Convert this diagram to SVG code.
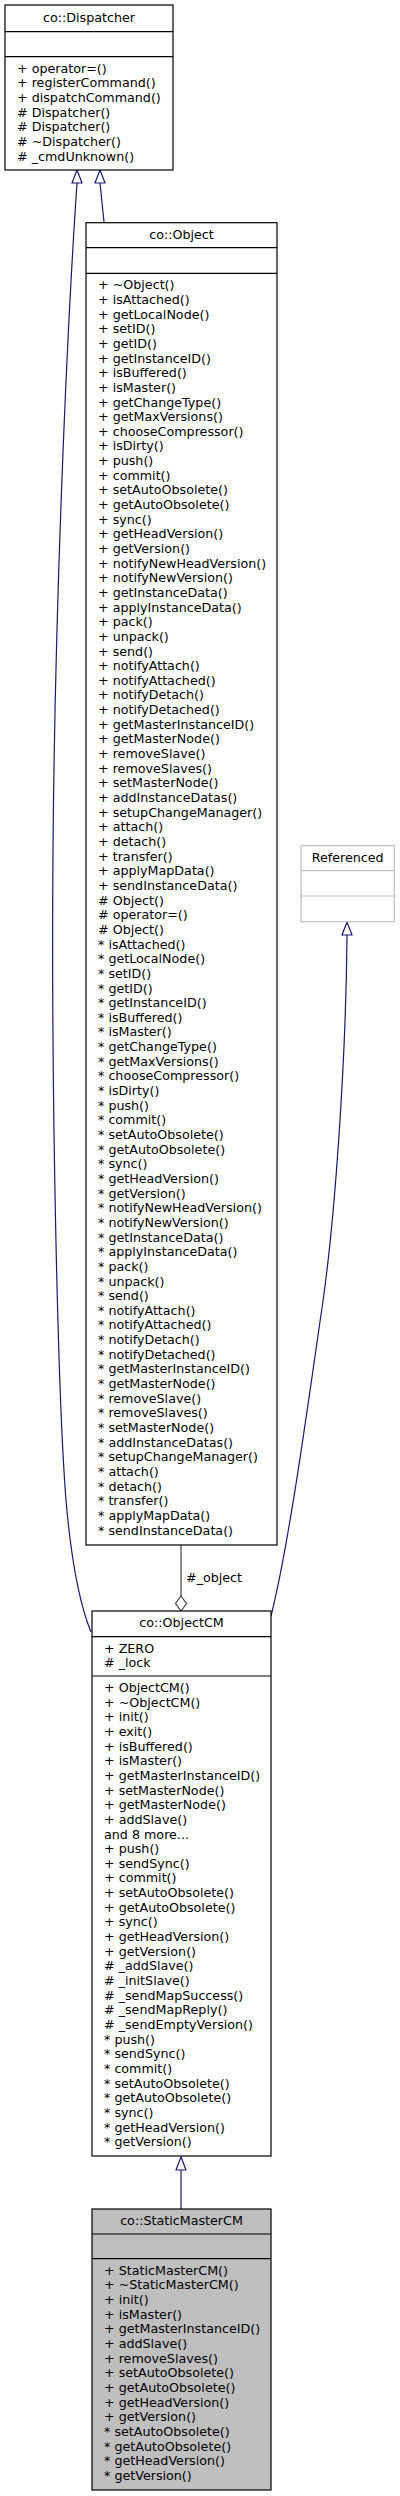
<svg xmlns="http://www.w3.org/2000/svg" xmlns:xlink="http://www.w3.org/1999/xlink" width="400" height="2496" viewBox="0 0 400 2496">
<style>
.box{fill:#fff;stroke:#000;stroke-width:1.2}
.gbox{fill:#bfbfbf;stroke:#000;stroke-width:1.2}
.ref{fill:#fff;stroke:#bfbfbf;stroke-width:1.2}
.sep{stroke:#000;stroke-width:1.2}
.rsep{stroke:#bfbfbf;stroke-width:1.2}
text{font-family:"DejaVu Sans","Liberation Sans",sans-serif;font-size:12.7px;fill:#000}
.c{text-anchor:middle}
.inh{fill:none;stroke:#191970;stroke-width:1.2}
.use{fill:none;stroke:#404040;stroke-width:1.2}
.head{fill:#fff;stroke:#191970;stroke-width:1.2}
.dia{fill:#fff;stroke:#404040;stroke-width:1.2}
</style>
<defs>
<path id="tri" d="M0,0 L-5,13 L5,13 Z"/>
<path id="diamond" d="M0,0 L5.5,7.5 L0,15 L-5.5,7.5 Z"/>
</defs>

<g id="connectors">
<path class="inh" d="M77,183 C67,330 55,600 53,850 C51,1100 58,1400 66,1500 C72,1570 82,1610 91,1632"/>
<use xlink:href="#tri" class="head" x="77" y="170"/>
<path class="inh" d="M100,183 L104,222"/>
<use xlink:href="#tri" class="head" x="100" y="170"/>
<path class="inh" d="M347,935 C346,1060 335,1220 322,1308 C309,1396 290,1540 271,1616"/>
<use xlink:href="#tri" class="head" x="347" y="922"/>
<path class="use" d="M181,1545 L181,1596"/>
<use xlink:href="#diamond" class="dia" x="181" y="1596"/>
<text x="186" y="1582">#_object</text>
<path class="inh" d="M181,2170 L181,2209"/>
<use xlink:href="#tri" class="head" x="181" y="2157"/>
</g>

<g id="node-dispatcher">
<rect class="box" x="5" y="5" width="168" height="165"/>
<line class="sep" x1="5" y1="31.7" x2="173" y2="31.7"/>
<line class="sep" x1="5" y1="56.7" x2="173" y2="56.7"/>
<text class="c" x="89" y="21.7">co::Dispatcher</text>
<text x="17" y="72.7"><tspan x="17" dy="0">+ operator=()</tspan><tspan x="17" dy="14.65">+ registerCommand()</tspan><tspan x="17" dy="14.65">+ dispatchCommand()</tspan><tspan x="17" dy="14.65"># Dispatcher()</tspan><tspan x="17" dy="14.65"># Dispatcher()</tspan><tspan x="17" dy="14.65"># ~Dispatcher()</tspan><tspan x="17" dy="14.65"># _cmdUnknown()</tspan></text>
</g>

<g id="node-object">
<rect class="box" x="86" y="222.7" width="191" height="1322.3"/>
<line class="sep" x1="86" y1="247.7" x2="277" y2="247.7"/>
<line class="sep" x1="86" y1="273.3" x2="277" y2="273.3"/>
<text class="c" x="181.5" y="238.5">co::Object</text>
<text x="98" y="289.3"><tspan x="98" dy="0">+ ~Object()</tspan><tspan x="98" dy="14.65">+ isAttached()</tspan><tspan x="98" dy="14.65">+ getLocalNode()</tspan><tspan x="98" dy="14.65">+ setID()</tspan><tspan x="98" dy="14.65">+ getID()</tspan><tspan x="98" dy="14.65">+ getInstanceID()</tspan><tspan x="98" dy="14.65">+ isBuffered()</tspan><tspan x="98" dy="14.65">+ isMaster()</tspan><tspan x="98" dy="14.65">+ getChangeType()</tspan><tspan x="98" dy="14.65">+ getMaxVersions()</tspan><tspan x="98" dy="14.65">+ chooseCompressor()</tspan><tspan x="98" dy="14.65">+ isDirty()</tspan><tspan x="98" dy="14.65">+ push()</tspan><tspan x="98" dy="14.65">+ commit()</tspan><tspan x="98" dy="14.65">+ setAutoObsolete()</tspan><tspan x="98" dy="14.65">+ getAutoObsolete()</tspan><tspan x="98" dy="14.65">+ sync()</tspan><tspan x="98" dy="14.65">+ getHeadVersion()</tspan><tspan x="98" dy="14.65">+ getVersion()</tspan><tspan x="98" dy="14.65">+ notifyNewHeadVersion()</tspan><tspan x="98" dy="14.65">+ notifyNewVersion()</tspan><tspan x="98" dy="14.65">+ getInstanceData()</tspan><tspan x="98" dy="14.65">+ applyInstanceData()</tspan><tspan x="98" dy="14.65">+ pack()</tspan><tspan x="98" dy="14.65">+ unpack()</tspan><tspan x="98" dy="14.65">+ send()</tspan><tspan x="98" dy="14.65">+ notifyAttach()</tspan><tspan x="98" dy="14.65">+ notifyAttached()</tspan><tspan x="98" dy="14.65">+ notifyDetach()</tspan><tspan x="98" dy="14.65">+ notifyDetached()</tspan><tspan x="98" dy="14.65">+ getMasterInstanceID()</tspan><tspan x="98" dy="14.65">+ getMasterNode()</tspan><tspan x="98" dy="14.65">+ removeSlave()</tspan><tspan x="98" dy="14.65">+ removeSlaves()</tspan><tspan x="98" dy="14.65">+ setMasterNode()</tspan><tspan x="98" dy="14.65">+ addInstanceDatas()</tspan><tspan x="98" dy="14.65">+ setupChangeManager()</tspan><tspan x="98" dy="14.65">+ attach()</tspan><tspan x="98" dy="14.65">+ detach()</tspan><tspan x="98" dy="14.65">+ transfer()</tspan><tspan x="98" dy="14.65">+ applyMapData()</tspan><tspan x="98" dy="14.65">+ sendInstanceData()</tspan><tspan x="98" dy="14.65"># Object()</tspan><tspan x="98" dy="14.65"># operator=()</tspan><tspan x="98" dy="14.65"># Object()</tspan><tspan x="98" dy="14.65">* isAttached()</tspan><tspan x="98" dy="14.65">* getLocalNode()</tspan><tspan x="98" dy="14.65">* setID()</tspan><tspan x="98" dy="14.65">* getID()</tspan><tspan x="98" dy="14.65">* getInstanceID()</tspan><tspan x="98" dy="14.65">* isBuffered()</tspan><tspan x="98" dy="14.65">* isMaster()</tspan><tspan x="98" dy="14.65">* getChangeType()</tspan><tspan x="98" dy="14.65">* getMaxVersions()</tspan><tspan x="98" dy="14.65">* chooseCompressor()</tspan><tspan x="98" dy="14.65">* isDirty()</tspan><tspan x="98" dy="14.65">* push()</tspan><tspan x="98" dy="14.65">* commit()</tspan><tspan x="98" dy="14.65">* setAutoObsolete()</tspan><tspan x="98" dy="14.65">* getAutoObsolete()</tspan><tspan x="98" dy="14.65">* sync()</tspan><tspan x="98" dy="14.65">* getHeadVersion()</tspan><tspan x="98" dy="14.65">* getVersion()</tspan><tspan x="98" dy="14.65">* notifyNewHeadVersion()</tspan><tspan x="98" dy="14.65">* notifyNewVersion()</tspan><tspan x="98" dy="14.65">* getInstanceData()</tspan><tspan x="98" dy="14.65">* applyInstanceData()</tspan><tspan x="98" dy="14.65">* pack()</tspan><tspan x="98" dy="14.65">* unpack()</tspan><tspan x="98" dy="14.65">* send()</tspan><tspan x="98" dy="14.65">* notifyAttach()</tspan><tspan x="98" dy="14.65">* notifyAttached()</tspan><tspan x="98" dy="14.65">* notifyDetach()</tspan><tspan x="98" dy="14.65">* notifyDetached()</tspan><tspan x="98" dy="14.65">* getMasterInstanceID()</tspan><tspan x="98" dy="14.65">* getMasterNode()</tspan><tspan x="98" dy="14.65">* removeSlave()</tspan><tspan x="98" dy="14.65">* removeSlaves()</tspan><tspan x="98" dy="14.65">* setMasterNode()</tspan><tspan x="98" dy="14.65">* addInstanceDatas()</tspan><tspan x="98" dy="14.65">* setupChangeManager()</tspan><tspan x="98" dy="14.65">* attach()</tspan><tspan x="98" dy="14.65">* detach()</tspan><tspan x="98" dy="14.65">* transfer()</tspan><tspan x="98" dy="14.65">* applyMapData()</tspan><tspan x="98" dy="14.65">* sendInstanceData()</tspan></text>
</g>

<g id="node-referenced">
<rect class="ref" x="301" y="845.7" width="93.3" height="76"/>
<line class="rsep" x1="301" y1="870.7" x2="394.3" y2="870.7"/>
<line class="rsep" x1="301" y1="896" x2="394.3" y2="896"/>
<text class="c" x="347.7" y="861.7">Referenced</text>
</g>

<g id="node-objectcm">
<rect class="box" x="92" y="1611" width="179" height="545"/>
<line class="sep" x1="92" y1="1636.7" x2="271" y2="1636.7"/>
<line class="sep" x1="92" y1="1676" x2="271" y2="1676"/>
<text class="c" x="181.5" y="1627">co::ObjectCM</text>
<text x="104" y="1652.7"><tspan x="104" dy="0">+ ZERO</tspan><tspan x="104" dy="14.65"># _lock</tspan></text>
<text x="104" y="1692"><tspan x="104" dy="0">+ ObjectCM()</tspan><tspan x="104" dy="14.65">+ ~ObjectCM()</tspan><tspan x="104" dy="14.65">+ init()</tspan><tspan x="104" dy="14.65">+ exit()</tspan><tspan x="104" dy="14.65">+ isBuffered()</tspan><tspan x="104" dy="14.65">+ isMaster()</tspan><tspan x="104" dy="14.65">+ getMasterInstanceID()</tspan><tspan x="104" dy="14.65">+ setMasterNode()</tspan><tspan x="104" dy="14.65">+ getMasterNode()</tspan><tspan x="104" dy="14.65">+ addSlave()</tspan><tspan x="104" dy="14.65">and 8 more...</tspan><tspan x="104" dy="14.65">+ push()</tspan><tspan x="104" dy="14.65">+ sendSync()</tspan><tspan x="104" dy="14.65">+ commit()</tspan><tspan x="104" dy="14.65">+ setAutoObsolete()</tspan><tspan x="104" dy="14.65">+ getAutoObsolete()</tspan><tspan x="104" dy="14.65">+ sync()</tspan><tspan x="104" dy="14.65">+ getHeadVersion()</tspan><tspan x="104" dy="14.65">+ getVersion()</tspan><tspan x="104" dy="14.65"># _addSlave()</tspan><tspan x="104" dy="14.65"># _initSlave()</tspan><tspan x="104" dy="14.65"># _sendMapSuccess()</tspan><tspan x="104" dy="14.65"># _sendMapReply()</tspan><tspan x="104" dy="14.65"># _sendEmptyVersion()</tspan><tspan x="104" dy="14.65">* push()</tspan><tspan x="104" dy="14.65">* sendSync()</tspan><tspan x="104" dy="14.65">* commit()</tspan><tspan x="104" dy="14.65">* setAutoObsolete()</tspan><tspan x="104" dy="14.65">* getAutoObsolete()</tspan><tspan x="104" dy="14.65">* sync()</tspan><tspan x="104" dy="14.65">* getHeadVersion()</tspan><tspan x="104" dy="14.65">* getVersion()</tspan></text>
</g>

<g id="node-staticmastercm">
<rect class="gbox" x="92" y="2209" width="179" height="281"/>
<line class="sep" x1="92" y1="2234" x2="271" y2="2234"/>
<line class="sep" x1="92" y1="2258.7" x2="271" y2="2258.7"/>
<text class="c" x="181.5" y="2225">co::StaticMasterCM</text>
<text x="104" y="2274.7"><tspan x="104" dy="0">+ StaticMasterCM()</tspan><tspan x="104" dy="14.65">+ ~StaticMasterCM()</tspan><tspan x="104" dy="14.65">+ init()</tspan><tspan x="104" dy="14.65">+ isMaster()</tspan><tspan x="104" dy="14.65">+ getMasterInstanceID()</tspan><tspan x="104" dy="14.65">+ addSlave()</tspan><tspan x="104" dy="14.65">+ removeSlaves()</tspan><tspan x="104" dy="14.65">+ setAutoObsolete()</tspan><tspan x="104" dy="14.65">+ getAutoObsolete()</tspan><tspan x="104" dy="14.65">+ getHeadVersion()</tspan><tspan x="104" dy="14.65">+ getVersion()</tspan><tspan x="104" dy="14.65">* setAutoObsolete()</tspan><tspan x="104" dy="14.65">* getAutoObsolete()</tspan><tspan x="104" dy="14.65">* getHeadVersion()</tspan><tspan x="104" dy="14.65">* getVersion()</tspan></text>
</g>
</svg>
